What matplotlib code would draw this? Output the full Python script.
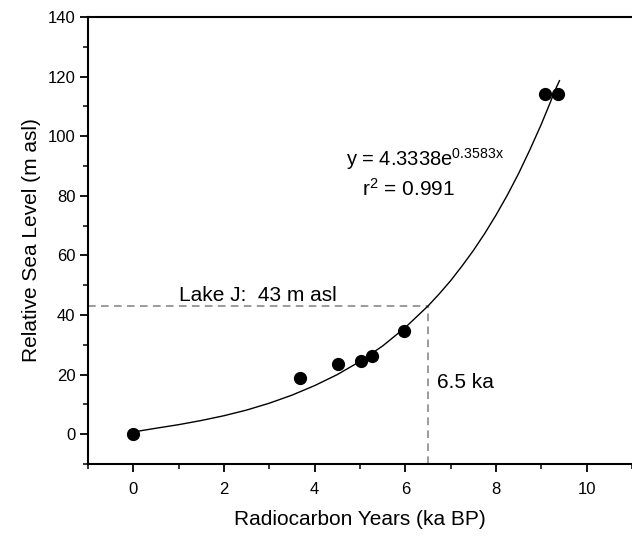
import matplotlib
matplotlib.use("Agg")
import matplotlib.pyplot as plt
from matplotlib.ticker import MultipleLocator

plt.rcParams["font.family"] = ["Liberation Sans", "DejaVu Sans"]
plt.rcParams["mathtext.fontset"] = "custom"
plt.rcParams["mathtext.rm"] = "Liberation Sans"
plt.rcParams["mathtext.it"] = "Liberation Sans"

# dated samples (ka BP, m asl)
age_ka = [0.0, 3.68, 4.52, 5.03, 5.27, 5.97, 9.08, 9.37]
sea_level = [0.0, 18.8, 23.7, 24.6, 26.2, 34.7, 114.2, 114.2]

# fitted curve as drawn
fit_x = [0.1, 0.5, 1.0, 1.5, 2.0, 2.5, 3.0, 3.5, 4.0, 4.5, 5.0, 5.5, 6.0, 6.5,
         6.75, 7.0, 7.25, 7.5, 7.75, 8.0, 8.25, 8.5, 8.75, 9.0, 9.1, 9.2, 9.3, 9.4]
fit_y = [1.0, 2.0, 3.2, 4.6, 6.2, 8.1, 10.4, 13.1, 16.3, 20.0, 24.4, 29.6, 35.8, 43.0,
         47.1, 51.5, 56.4, 61.6, 67.3, 73.5, 80.2, 87.5, 95.5, 104.0, 107.7, 111.4, 115.3, 118.6]

# Lake J reference
lake_age = 6.5
lake_level = 43

fig = plt.figure(figsize=(6.32, 5.38), dpi=100)
ax = fig.add_axes([0.139, 0.1375, 0.861, 0.831])

ax.plot(fit_x, fit_y, color="black", lw=1.0, zorder=2)
ax.plot(age_ka, sea_level, "o", color="black", ms=8.5, zorder=3)

ax.plot([-1, lake_age], [lake_level, lake_level], color="#808080", lw=1.1,
        dashes=(5, 3.5), zorder=1)
ax.plot([lake_age, lake_age], [-10, lake_level], color="#808080", lw=1.1,
        dashes=(5, 3.5), zorder=1)

ax.text(1.0, 44.8, "Lake J:  43 m asl", fontsize=15, ha="left", va="baseline")
ax.text(6.7, 17.5, "6.5 ka", fontsize=15, ha="left", va="center")
ax.text(4.7, 90.0, r"y = 4.3338e$^{\mathregular{0.3583x}}$", fontsize=14.5,
        ha="left", va="baseline")
ax.text(5.05, 80.0, r"r$^{\mathregular{2}}$ = 0.991", fontsize=15,
        ha="left", va="baseline")

ax.set_xlim(-1, 11)
ax.set_ylim(-10, 140)
ax.xaxis.set_major_locator(MultipleLocator(2))
ax.xaxis.set_minor_locator(MultipleLocator(1))
ax.yaxis.set_major_locator(MultipleLocator(20))
ax.yaxis.set_minor_locator(MultipleLocator(10))
ax.tick_params(which="major", direction="out", length=6, width=1.3,
               labelsize=12, top=False, right=False)
ax.tick_params(which="minor", direction="out", length=3.5, width=1.1,
               top=False, right=False)
ax.tick_params(axis="x", which="major", pad=7)
ax.tick_params(axis="y", which="major", pad=3)

ax.spines["right"].set_visible(False)
for s in ("left", "bottom", "top"):
    ax.spines[s].set_linewidth(1.5)

ax.set_xlabel("Radiocarbon Years (ka BP)", fontsize=15, labelpad=9)
ax.set_ylabel("Relative Sea Level (m asl)", fontsize=15, labelpad=5)

fig.savefig("out.png", dpi=100)
